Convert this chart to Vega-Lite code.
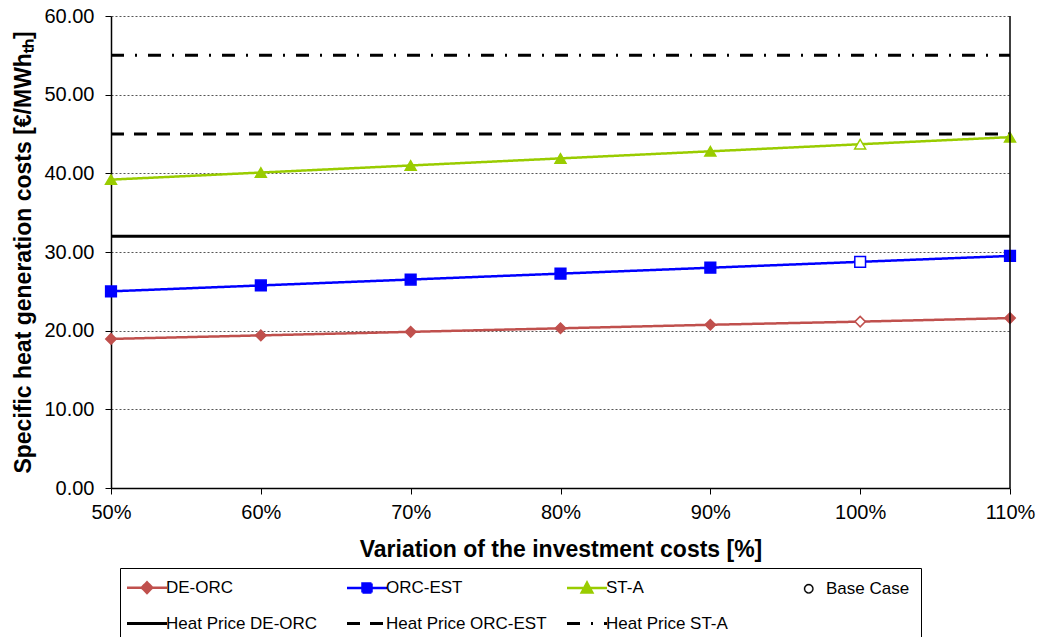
{
  "$schema": "https://vega.github.io/schema/vega-lite/v6.json",
  "width": 899,
  "height": 472,
  "autosize": {"type": "none"},
  "padding": {"left": 111, "top": 16, "right": 30, "bottom": 149},
  "background": "white",
  "config": {
    "view": {"stroke": null},
    "font": "Liberation Sans",
    "axis": {
      "labelFont": "Liberation Sans",
      "labelColor": "black",
      "titleFont": "Liberation Sans",
      "titleFontWeight": "bold",
      "titleColor": "black",
      "domainColor": "black",
      "domainWidth": 1.5,
      "tickColor": "black"
    }
  },
  "datasets": {
    "series": [
      {"x": 50, "series": "DE-ORC", "value": 18.95},
      {"x": 60, "series": "DE-ORC", "value": 19.4},
      {"x": 70, "series": "DE-ORC", "value": 19.85},
      {"x": 80, "series": "DE-ORC", "value": 20.3},
      {"x": 90, "series": "DE-ORC", "value": 20.75},
      {"x": 100, "series": "DE-ORC", "value": 21.15},
      {"x": 110, "series": "DE-ORC", "value": 21.6},
      {"x": 50, "series": "ORC-EST", "value": 25.0},
      {"x": 60, "series": "ORC-EST", "value": 25.75},
      {"x": 70, "series": "ORC-EST", "value": 26.5},
      {"x": 80, "series": "ORC-EST", "value": 27.25},
      {"x": 90, "series": "ORC-EST", "value": 28.0},
      {"x": 100, "series": "ORC-EST", "value": 28.75},
      {"x": 110, "series": "ORC-EST", "value": 29.5},
      {"x": 50, "series": "ST-A", "value": 39.2},
      {"x": 60, "series": "ST-A", "value": 40.1},
      {"x": 70, "series": "ST-A", "value": 41.0},
      {"x": 80, "series": "ST-A", "value": 41.9},
      {"x": 90, "series": "ST-A", "value": 42.8},
      {"x": 100, "series": "ST-A", "value": 43.7},
      {"x": 110, "series": "ST-A", "value": 44.6}
    ],
    "heat": [
      {"x": 50, "series": "Heat Price DE-ORC", "value": 32},
      {"x": 110, "series": "Heat Price DE-ORC", "value": 32},
      {"x": 50, "series": "Heat Price ORC-EST", "value": 45},
      {"x": 110, "series": "Heat Price ORC-EST", "value": 45},
      {"x": 50, "series": "Heat Price ST-A", "value": 55},
      {"x": 110, "series": "Heat Price ST-A", "value": 55}
    ],
    "border": [{"x": 110}]
  },
  "layer": [
    {
      "data": {"name": "heat"},
      "mark": {"type": "line", "strokeWidth": 3},
      "encoding": {
        "x": {
          "field": "x", "type": "quantitative",
          "scale": {"domain": [50, 110], "nice": false, "zero": false},
          "axis": {
            "values": [50, 60, 70, 80, 90, 100, 110],
            "labelExpr": "datum.value + '%'",
            "labelFlush": false,
            "grid": false,
            "labelFontSize": 20,
            "labelPadding": 8,
            "tickSize": 6,
            "title": "Variation of the investment costs [%]",
            "titleFontSize": 23,
            "titlePadding": 16
          }
        },
        "y": {
          "field": "value", "type": "quantitative",
          "scale": {"domain": [0, 60], "nice": false},
          "axis": {
            "values": [0, 10, 20, 30, 40, 50, 60],
            "format": ".2f",
            "grid": true,
            "gridColor": "#555555",
            "gridDash": [2, 2],
            "gridWidth": 1,
            "labelFontSize": 20,
            "labelPadding": 11,
            "tickSize": 6,
            "title": "Specific heat generation costs [€/MWhₜₕ]",
            "titleFontSize": 23,
            "titlePadding": 8
          }
        },
        "color": {
          "field": "series", "type": "nominal",
          "scale": {
            "domain": ["DE-ORC", "ORC-EST", "ST-A", "Base Case", "Heat Price DE-ORC", "Heat Price ORC-EST", "Heat Price ST-A"],
            "range": ["#C0504D", "#0000FF", "#99CC00", "#000000", "#000000", "#000000", "#000000"]
          },
          "legend": {
            "title": null,
            "orient": "none",
            "legendX": 9,
            "legendY": 552,
            "direction": "horizontal",
            "columns": 4,
            "gridAlign": "all",
            "columnPadding": 14,
            "rowPadding": 16,
            "padding": 11,
            "strokeColor": "black",
            "fillColor": "white",
            "labelFont": "Liberation Sans",
            "labelFontSize": 17,
            "labelColor": "black",
            "labelOffset": 18,
            "labelLimit": 400,
            "symbolSize": 625,
            "encode": {
              "symbols": {
                "update": {
                  "shape": {"signal": "datum.value === 'DE-ORC' ? 'M-1,0H2.2M0.6,-0.42L1.02,0L0.6,0.42L0.18,0Z' : datum.value === 'ORC-EST' ? 'M-1,0H2.2M0.24,-0.36H0.96V0.36H0.24Z' : datum.value === 'ST-A' ? 'M-1,0H2.2M0.6,-0.42L1.02,0.36H0.18Z' : datum.value === 'Base Case' ? 'M1.12,0A0.38,0.38,0,1,1,0.36,0A0.38,0.38,0,1,1,1.12,0ZM1.03,0A0.29,0.29,0,1,0,0.45,0A0.29,0.29,0,1,0,1.03,0Z' : 'M-1,0H2.2'"},
                  "fill": {"signal": "scale('color', datum.value)"},
                  "stroke": {"signal": "scale('color', datum.value)"},
                  "strokeWidth": {"signal": "datum.value === 'Base Case' ? 0.3 : (datum.value === 'DE-ORC' || datum.value === 'ORC-EST' || datum.value === 'ST-A' ? 2.5 : 3)"},
                  "size": {"value": 625},
                  "opacity": {"value": 1}
                }
              }
            }
          }
        },
        "strokeDash": {
          "field": "series", "type": "nominal",
          "scale": {
            "domain": ["DE-ORC", "ORC-EST", "ST-A", "Base Case", "Heat Price DE-ORC", "Heat Price ORC-EST", "Heat Price ST-A"],
            "range": [[1, 0], [1, 0], [1, 0], [1, 0], [1, 0], [13, 10], [13, 11, 2, 11]]
          }
        }
      }
    },
    {
      "data": {"name": "series"},
      "mark": {"type": "line", "strokeWidth": 2.5},
      "encoding": {
        "x": {"field": "x", "type": "quantitative"},
        "y": {"field": "value", "type": "quantitative"},
        "color": {"field": "series", "type": "nominal"},
        "strokeDash": {"field": "series", "type": "nominal"}
      }
    },
    {
      "data": {"name": "series"},
      "mark": {"type": "point", "filled": true, "opacity": 1, "strokeWidth": 1.5},
      "encoding": {
        "x": {"field": "x", "type": "quantitative"},
        "y": {"field": "value", "type": "quantitative"},
        "shape": {
          "field": "series", "type": "nominal",
          "scale": {"domain": ["DE-ORC", "ORC-EST", "ST-A"], "range": ["diamond", "square", "triangle-up"]},
          "legend": null
        },
        "size": {
          "field": "series", "type": "nominal",
          "scale": {"domain": ["DE-ORC", "ORC-EST", "ST-A"], "range": [110, 120, 140]},
          "legend": null
        },
        "color": {
          "condition": {"test": "datum.x === 100", "value": "white"},
          "field": "series", "type": "nominal"
        },
        "stroke": {
          "field": "series", "type": "nominal",
          "scale": {"domain": ["DE-ORC", "ORC-EST", "ST-A"], "range": ["#C0504D", "#0000FF", "#99CC00"]},
          "legend": null
        }
      }
    },
    {
      "data": {"name": "border"},
      "mark": {"type": "rule", "color": "black", "strokeWidth": 1.5},
      "encoding": {"x": {"field": "x", "type": "quantitative"}}
    }
  ]
}
